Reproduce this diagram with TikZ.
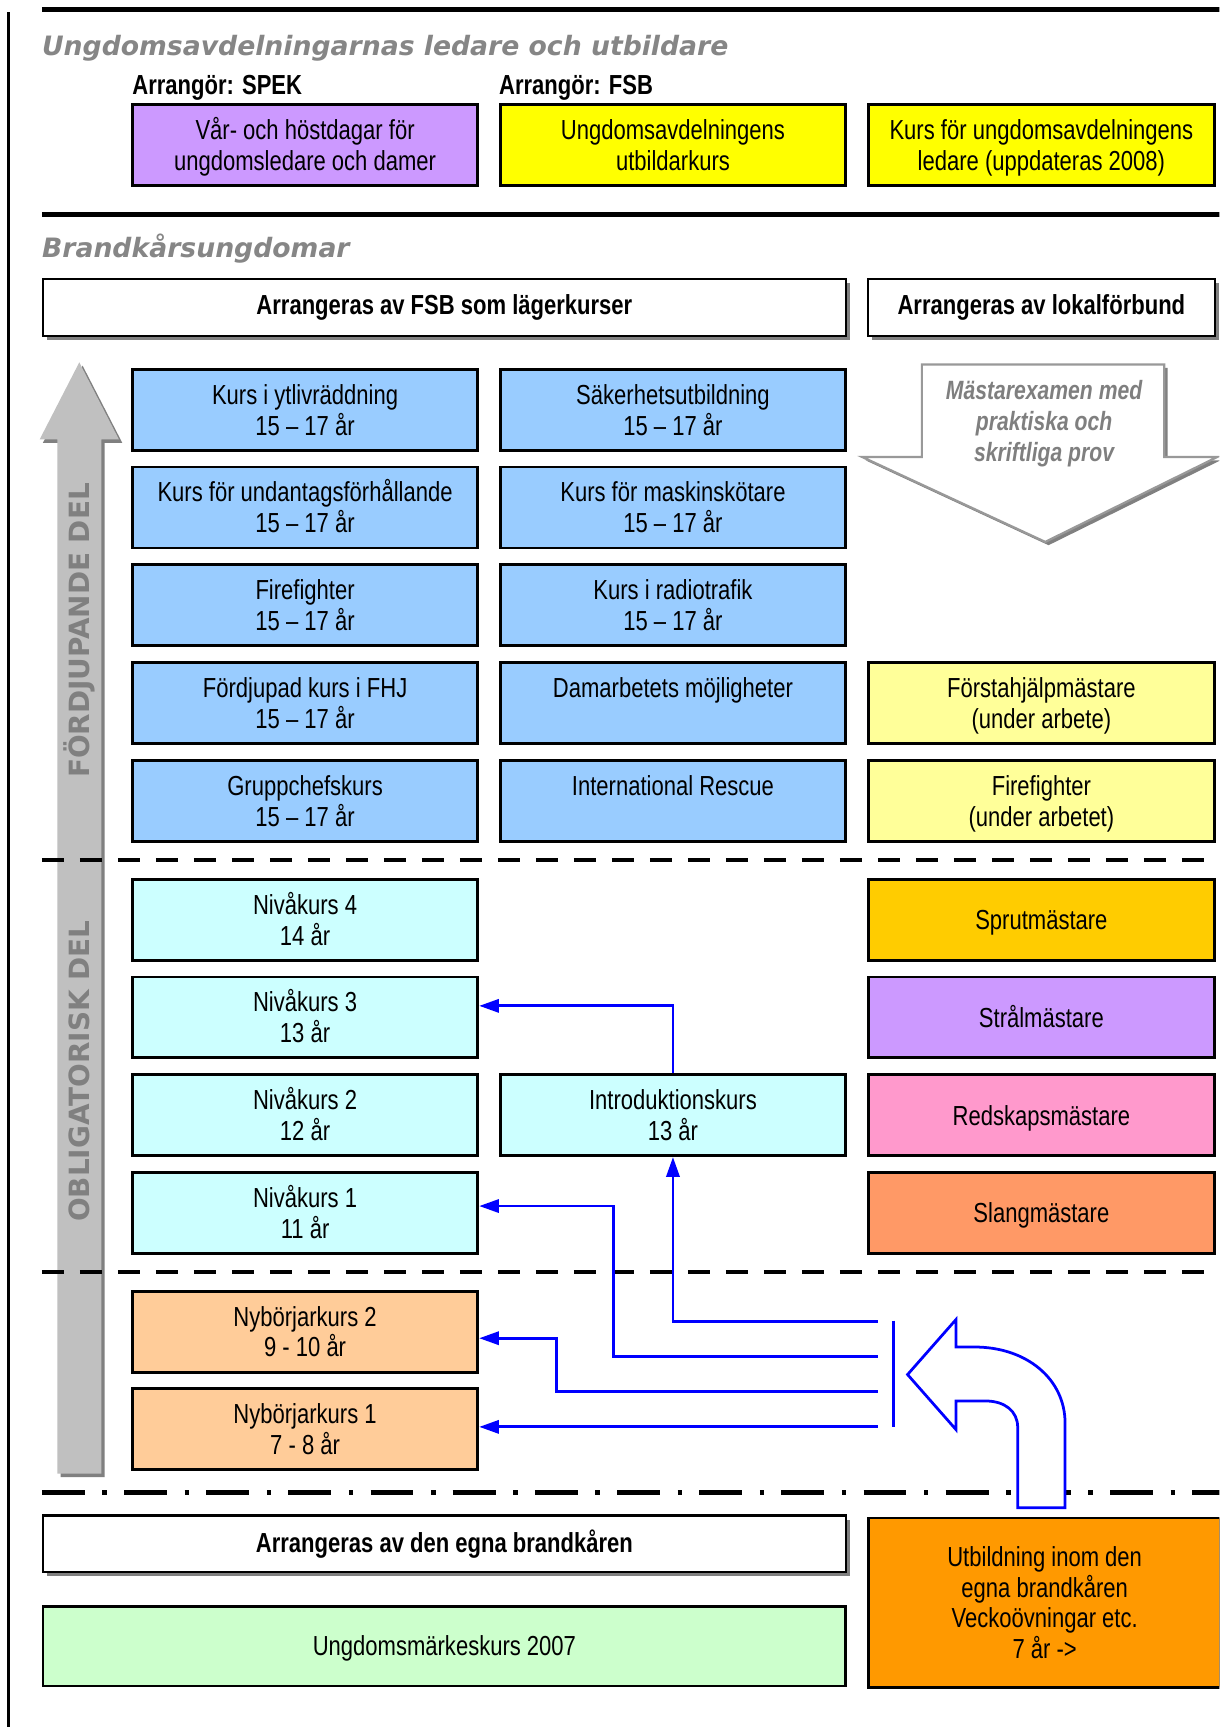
\documentclass[tikz,border=0pt]{standalone}
\usepackage{fontspec}
\setmainfont[FakeStretch=0.80]{Liberation Sans}
\newfontfamily\vfont{DejaVu Sans}
\usetikzlibrary{arrows.meta,shadows}
\definecolor{cpurple}{HTML}{CC99FF}
\definecolor{cyel}{HTML}{FFFF00}
\definecolor{cblue}{HTML}{99CCFF}
\definecolor{cly}{HTML}{FFFF99}
\definecolor{ccyan}{HTML}{CCFFFF}
\definecolor{cgold}{HTML}{FFCC00}
\definecolor{cpink}{HTML}{FF99CC}
\definecolor{csalmon}{HTML}{FF9966}
\definecolor{cpeach}{HTML}{FFCC99}
\definecolor{cgreen}{HTML}{CCFFCC}
\definecolor{corange}{HTML}{FF9900}
\definecolor{clgray}{HTML}{C0C0C0}
\definecolor{cdgray}{HTML}{808080}
\definecolor{cttl}{HTML}{868686}
\definecolor{cmast}{HTML}{999999}
\definecolor{cmtxt}{HTML}{7F7F7F}
\definecolor{cblu}{HTML}{0000FF}
\newcommand\twol[2]{\rule{0pt}{18pt}\smash{#1}\\\smash{#2}}
\newcommand\onel[1]{\rule{0pt}{18pt}\smash{#1}}
\begin{document}
\begin{tikzpicture}[x=1pt,y=-1pt,
  bx/.style={draw=black, line width=2.6pt, minimum width=313.5pt, minimum height=73.5pt,
    inner sep=0pt, align=center, font=\fontsize{25}{28}\selectfont},
  bxr/.style={bx, minimum width=314.5pt},
  hdr/.style={draw=black, line width=2pt, fill=white, inner sep=0pt, align=center,
    font=\bfseries\fontsize{25}{28}\selectfont,
    drop shadow={shadow xshift=4pt, shadow yshift=-4pt, fill=cdgray, opacity=1}},
  ttl/.style={inner sep=0pt, anchor=base west, text=cttl,
    font=\vfont\bfseries\itshape\fontsize{24.2}{28}\selectfont},
  arr/.style={inner sep=0pt, anchor=base west, font=\bfseries\fontsize{25}{28}\selectfont},
  vtxt/.style={rotate=90, inner sep=0pt, text=cdgray,
    font=\vfont\bfseries\fontsize{25.3}{28}\selectfont},
  sepline/.style={line width=4.5pt},
  dline/.style={line width=4pt, dash pattern=on 20pt off 14.5pt},
  ddline/.style={line width=4pt, dash pattern=on 39pt off 16pt on 4pt off 15.6pt},
  blu/.style={draw=cblu, line width=2.6pt},
  barr/.style={blu, -{Triangle[length=18pt,width=12pt]}}
]
\useasboundingbox (0,0) rectangle (1107,1568);
\clip (0,0) rectangle (1107,1568);
\fill[white] (0,0) rectangle (1107,1568);

% frame lines
\coordinate (lvT) at (7.5,11);
\coordinate (lvB) at (7.5,1570);
\draw[line width=2.6pt] (lvT) -- (lvB);
\coordinate (l1a) at (38,8.5);
\coordinate (l1b) at (1110,8.5);
\draw[sepline] (l1a) -- (l1b);
\coordinate (l2a) at (38,195);
\coordinate (l2b) at (1110,195);
\draw[sepline] (l2a) -- (l2b);

% titles
\node[ttl] (title1) at (38,50) {Ungdomsavdelningarnas ledare och utbildare};
\node[ttl] (title2) at (38,234) {Brandkårsungdomar};
\node[arr] (arr1) at (120,86) {Arrangör: SPEK};
\node[arr] (arr2) at (453,86) {Arrangör: FSB};

% top boxes
\node[bx, fill=cpurple] (t1) at (277,131.5) {\twol{Vår- och höstdagar för}{ungdomsledare och damer}};
\node[bx, fill=cyel] (t2) at (611,131.5) {\twol{Ungdomsavdelningens}{utbildarkurs}};
\node[bxr, fill=cyel] (t3) at (945.5,131.5) {\twol{Kurs för ungdomsavdelningens}{ledare (uppdateras 2008)}};

% header boxes
\node[hdr, minimum width=729pt, minimum height=52pt] (h1) at (403.5,279) {Arrangeras av FSB som lägerkurser};
\node[hdr, minimum width=315pt, minimum height=52pt] (h2) at (945.5,279) {Arrangeras av lokalförbund};

% grey vertical arrow
\fill[cdgray] (55,1341) -- (55,402) -- (39,402) -- (75,332) -- (111,402) -- (95,402) -- (95,1341) -- cycle;
\fill[clgray] (52,1338) -- (52,399) -- (36,399) -- (72,329) -- (108,399) -- (92,399) -- (92,1338) -- cycle;
\node[vtxt] (fd) at (72.5,572.5) {FÖRDJUPANDE DEL};
\node[vtxt] (ob) at (72.5,972.5) {OBLIGATORISK DEL};

% Mästarexamen arrow
\fill[cdgray] (840,334) -- (1060,334) -- (1060,418) -- (1108,418) -- (952,495) -- (786,418) -- (840,418) -- cycle;
\draw[cmast, fill=white, line width=2pt] (837,331) -- (1057,331) -- (1057,415) -- (1105,415) -- (949,492) -- (783,415) -- (837,415) -- cycle;
\node[inner sep=0pt, align=center, text=cmtxt, font=\bfseries\itshape\fontsize{24}{28}\selectfont] (mast) at (948,382)
  {\rule{0pt}{18pt}\smash{Mästarexamen med}\\\smash{praktiska och}\\\smash{skriftliga prov}};

% blue boxes
\node[bx, fill=cblue] (b11) at (277,372) {\twol{Kurs i ytlivräddning}{15 – 17 år}};
\node[bx, fill=cblue] (b12) at (611,372) {\twol{Säkerhetsutbildning}{15 – 17 år}};
\node[bx, fill=cblue] (b21) at (277,460.75) {\twol{Kurs för undantagsförhållande}{15 – 17 år}};
\node[bx, fill=cblue] (b22) at (611,460.75) {\twol{Kurs för maskinskötare}{15 – 17 år}};
\node[bx, fill=cblue] (b31) at (277,549.5) {\twol{Firefighter}{15 – 17 år}};
\node[bx, fill=cblue] (b32) at (611,549.5) {\twol{Kurs i radiotrafik}{15 – 17 år}};
\node[bx, fill=cblue] (b41) at (277,638.25) {\twol{Fördjupad kurs i FHJ}{15 – 17 år}};
\node[bx, fill=cblue] (b42) at (611,638.25) {\twol{Damarbetets möjligheter}{}};
\node[bx, fill=cblue] (b51) at (277,727) {\twol{Gruppchefskurs}{15 – 17 år}};
\node[bx, fill=cblue] (b52) at (611,727) {\twol{International Rescue}{}};
\node[bxr, fill=cly] (r4) at (945.5,638.25) {\twol{Förstahjälpmästare}{(under arbete)}};
\node[bxr, fill=cly] (r5) at (945.5,727) {\twol{Firefighter}{(under arbetet)}};

% cyan boxes
\node[bx, fill=ccyan] (n4) at (277,835) {\twol{Nivåkurs 4}{14 år}};
\node[bx, fill=ccyan] (n3) at (277,923.75) {\twol{Nivåkurs 3}{13 år}};
\node[bx, fill=ccyan] (n2) at (277,1012.5) {\twol{Nivåkurs 2}{12 år}};
\node[bx, fill=ccyan] (n1) at (277,1101.25) {\twol{Nivåkurs 1}{11 år}};
\node[bx, fill=ccyan] (intro) at (611,1012.5) {\twol{Introduktionskurs}{13 år}};
\node[bxr, fill=cgold] (sprut) at (945.5,835) {\onel{Sprutmästare}};
\node[bxr, fill=cpurple] (stral) at (945.5,923.75) {\onel{Strålmästare}};
\node[bxr, fill=cpink] (redsk) at (945.5,1012.5) {\onel{Redskapsmästare}};
\node[bxr, fill=csalmon] (slang) at (945.5,1101.25) {\onel{Slangmästare}};

% beginners
\node[bx, fill=cpeach] (nyb2) at (277,1209) {\twol{Nybörjarkurs 2}{9 - 10 år}};
\node[bx, fill=cpeach] (nyb1) at (277,1297.75) {\twol{Nybörjarkurs 1}{7 - 8 år}};

% separator lines
\coordinate (d1a) at (38,781);
\coordinate (d1b) at (1110,781);
\draw[dline] (d1a) -- (d1b);
\coordinate (d2a) at (38,1155);
\coordinate (d2b) at (1110,1155);
\draw[dline] (d2a) -- (d2b);
\coordinate (d3a) at (38,1355);
\coordinate (d3b) at (1110,1355);
\draw[ddline] (d3a) -- (d3b);

% blue connectors
\coordinate (s1) at (797,1200);
\coordinate (s2) at (797,1231.5);
\coordinate (s3) at (797,1263.5);
\coordinate (s4) at (797,1295.5);
\coordinate (k2) at (557,1095);
\coordinate (k3) at (505,1215);
\draw[barr] (intro.north) |- ([yshift=10.5pt]n3.east);
\draw[barr] (s1) -| (intro.south);
\draw[barr] (s2) -| (k2) -- (k2 -| n1.east);
\draw[barr] (s3) -| (k3) -- (k3 -| nyb2.east);
\draw[barr] (s4) -- (s4 -| nyb1.east);
\coordinate (barT) at (811,1199);
\coordinate (barB) at (811,1296);
\draw[blu] (barT) -- (barB);

% U-turn arrow
\draw[blu, fill=white, line width=2.5pt, line join=miter]
  (824,1248) -- (868,1198) -- (868,1223) -- (885,1223)
  .. controls (932,1223) and (967,1252) .. (967,1292)
  -- (967,1369) -- (924,1369) -- (924,1296)
  .. controls (924,1281) and (912,1272) .. (895,1272)
  -- (868,1272) -- (868,1298) -- cycle;

% bottom part
\node[hdr, minimum width=729pt, minimum height=51pt] (h3) at (403.5,1401.5) {Arrangeras av den egna brandkåren};
\node[bx, fill=cgreen, minimum width=729pt, minimum height=72.5pt] (ung) at (403.5,1494.5) {\onel{Ungdomsmärkeskurs 2007}};
\node[bx, fill=corange, minimum width=320pt, minimum height=153.5pt] (orng) at (948.5,1455)
  {\rule{0pt}{18pt}\smash{Utbildning inom den}\\\smash{egna brandkåren}\\\smash{Veckoövningar etc.}\\\smash{7 år ->}};
\end{tikzpicture}
\end{document}
